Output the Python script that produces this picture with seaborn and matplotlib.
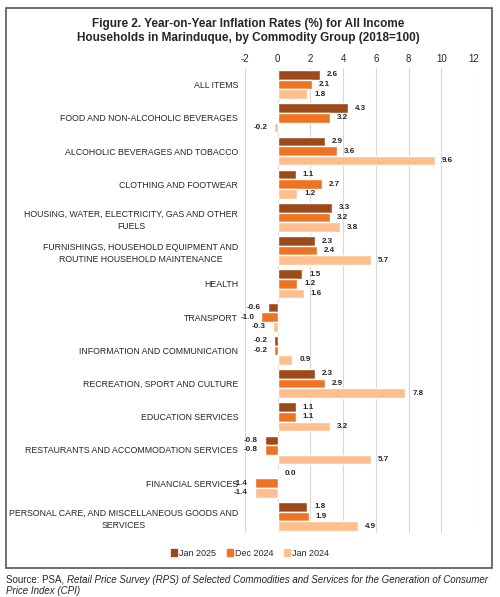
import numpy as np
import pandas as pd
import matplotlib.pyplot as plt
import seaborn as sns
from matplotlib.patches import Rectangle

# data
groups = ['ALL ITEMS', 'FOOD AND NON-ALCOHOLIC BEVERAGES', 'ALCOHOLIC BEVERAGES AND TOBACCO',
          'CLOTHING AND FOOTWEAR', 'HOUSING, WATER, ELECTRICITY, GAS AND OTHER\nFUELS',
          'FURNISHINGS, HOUSEHOLD EQUIPMENT AND\nROUTINE HOUSEHOLD MAINTENANCE', 'HEALTH',
          'TRANSPORT', 'INFORMATION AND COMMUNICATION', 'RECREATION, SPORT AND CULTURE',
          'EDUCATION SERVICES', 'RESTAURANTS AND ACCOMMODATION SERVICES', 'FINANCIAL SERVICES',
          'PERSONAL CARE, AND MISCELLANEOUS GOODS AND\nSERVICES']
jan2025 = [2.6, 4.3, 2.9, 1.1, 3.3, 2.3, 1.5, -0.6, -0.2, 2.3, 1.1, -0.8, 0.0, 1.8]
dec2024 = [2.1, 3.2, 3.6, 2.7, 3.2, 2.4, 1.2, -1.0, -0.2, 2.9, 1.1, -0.8, -1.4, 1.9]
jan2024 = [1.8, -0.2, 9.6, 1.2, 3.8, 5.7, 1.6, -0.3, 0.9, 7.8, 3.2, 5.7, -1.4, 4.9]
periods = ['Jan 2025', 'Dec 2024', 'Jan 2024']
colors = ['#9C4A1A', '#EE7322', '#FDBF8F']

df = pd.DataFrame({
    'group': groups * 3,
    'period': np.repeat(periods, len(groups)),
    'value': jan2025 + dec2024 + jan2024,
})

sns.set_style('white')
plt.rcParams['font.family'] = ['Liberation Sans', 'DejaVu Sans']
plt.rcParams['axes.unicode_minus'] = False

fig = plt.figure(figsize=(5, 5.97), dpi=100)
ax = fig.add_axes([0.49, 1 - 533 / 597, 0.458, 465 / 597])

sns.barplot(data=df, y='group', x='value', hue='period', order=groups, hue_order=periods,
            palette=colors, orient='h', width=0.87, ax=ax, legend=False, saturation=1)

for cont in ax.containers:
    ax.bar_label(cont, fmt='%.1f', padding=5, fontsize=5.8, fontweight='bold')

ax.set_xlim(-2, 12)
ax.set_xticks(range(-2, 13, 2))
ax.xaxis.tick_top()
ax.tick_params(axis='x', length=0, labelsize=7, pad=3)
ax.tick_params(axis='y', length=0, labelsize=6.3, pad=5)
for t in ax.get_yticklabels():
    t.set_multialignment('center')
    t.set_linespacing(1.45)
ax.grid(axis='x', color='#d9d9d9', lw=0.8)
ax.set_axisbelow(True)
for s in ax.spines.values():
    s.set_visible(False)
ax.set_xlabel('')
ax.set_ylabel('')

fig.text(0.497, 1 - 31 / 597, 'Figure 2. Year-on-Year Inflation Rates (%) for All Income\n'
         'Households in Marinduque, by Commodity Group (2018=100)',
         ha='center', va='center', fontsize=8.5, fontweight='bold', linespacing=1.15)

# legend
handles = [Rectangle((0, 0), 1, 1, color=c) for c in colors]
fig.legend(handles, periods, loc='center', bbox_to_anchor=(0.5, 1 - 553 / 597), ncol=3,
           frameon=False, fontsize=6.5, handlelength=0.7, handleheight=0.7,
           handletextpad=0.2, columnspacing=1.2)

# frame
fig.add_artist(Rectangle((0.012, 1 - 568 / 597), 0.972, 560 / 597, transform=fig.transFigure,
                         fill=False, edgecolor='#555555', lw=1.2))

# source
fig.canvas.draw()
r = fig.canvas.get_renderer()
t1 = fig.text(0.012, 1 - 580 / 597, 'Source: PSA, ', fontsize=7, va='center')
bb = t1.get_window_extent(r)
fig.text(bb.x1 / fig.bbox.width, 1 - 580 / 597,
         'Retail Price Survey (RPS) of Selected Commodities and Services for the Generation of Consumer',
         fontsize=7, style='italic', va='center')
fig.text(0.012, 1 - 591 / 597, 'Price Index (CPI)', fontsize=7, style='italic', va='center')

fig.savefig('out.png', dpi=100)
